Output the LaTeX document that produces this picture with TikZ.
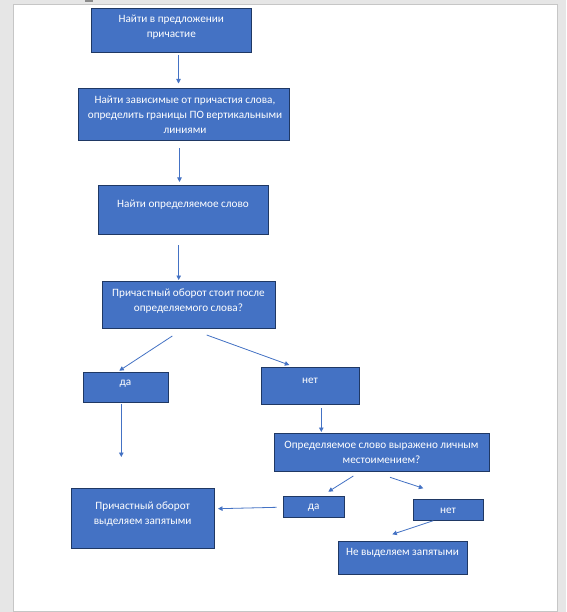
\documentclass[tikz,border=0pt]{standalone}
\usepackage{fontspec}
\setmainfont{Carlito}
\usetikzlibrary{arrows.meta,calc}
\definecolor{boxblue}{HTML}{4472C4}
\definecolor{boxedge}{HTML}{1F3864}
\definecolor{pagegray}{HTML}{E6E6E6}
\definecolor{pageedge}{HTML}{C6C6C6}
\definecolor{markgray}{HTML}{8A8A8A}
\begin{document}
\begin{tikzpicture}[x=1pt,y=-1pt,
  box/.style={draw=boxedge, fill=boxblue, line width=0.9pt, inner sep=0pt},
  txt/.style={text=white, font=\fontsize{11.2}{15.2}\selectfont, align=center, inner sep=0pt},
  conn/.style={draw=boxblue, line width=0.8pt, -{Triangle[length=4.5pt,width=4.5pt]}}]
\useasboundingbox (0,0) rectangle (566,612);
\fill[pagegray] (0,0) rectangle (566,612);
\filldraw[fill=white, draw=pageedge, line width=1pt] (13.5,5) rectangle (557,611);
\fill[markgray] (85,0) rectangle (93,2.5);

% boxes
\node[box, minimum width=160pt, minimum height=44pt] (b1) at (171.3,30.3) {};
\node[txt] (t1) at (171.3,27.5) {Найти в предложении\\причастие};
\node[box, minimum width=211pt, minimum height=51.7pt] (b2) at (183.8,114.2) {};
\node[txt] (t2) at (185,115) {Найти зависимые от причастия слова,\\определить границы ПО вертикальными\\линиями};
\node[box, minimum width=170.4pt, minimum height=49.3pt] (b3) at (183.5,209.7) {};
\node[txt] (t3) at (183,204.3) {Найти определяемое слово};
\node[box, minimum width=173.4pt, minimum height=47.3pt] (b4) at (189,304.7) {};
\node[txt] (t4) at (188.5,301) {Причастный оборот стоит после\\определяемого слова?};
\node[box, minimum width=85.4pt, minimum height=30pt] (da1) at (126,387.3) {};
\node[txt] (tda1) at (125.5,384) {да};
\node[box, minimum width=98pt, minimum height=37pt] (net1) at (310.3,385.8) {};
\node[txt] (tnet1) at (310,380.7) {нет};
\node[box, minimum width=215pt, minimum height=37.7pt] (opr) at (381.8,452.2) {};
\node[txt] (topr) at (381.5,452.2) {Определяемое слово выражено личным\\местоимением?};
\node[box, minimum width=61pt, minimum height=21.3pt] (da2) at (313.8,506.7) {};
\node[txt] (tda2) at (313.8,507.5) {да};
\node[box, minimum width=70pt, minimum height=20.7pt] (net2) at (448.3,509.7) {};
\node[txt] (tnet2) at (448,510.7) {нет};
\node[box, minimum width=143pt, minimum height=60pt] (pv) at (142.8,518.3) {};
\node[txt] (tpv) at (142.7,514.2) {Причастный оборот\\выделяем запятыми};
\node[box, minimum width=129pt, minimum height=33pt] (nv) at (402.8,557.8) {};
\node[txt] (tnv) at (402.5,552.7) {Не выделяем запятыми};

% connector ends
\coordinate (a1s) at (178.5,55);   \coordinate (a1e) at (178.5,83.5);
\coordinate (a2s) at (179.5,148.5); \coordinate (a2e) at (179.5,182);
\coordinate (a3s) at (178.7,245);  \coordinate (a3e) at (178.7,280);
\coordinate (a4s) at (172.3,336);  \coordinate (a4e) at (119.3,370.7);
\coordinate (a5s) at (206.7,335);  \coordinate (a5e) at (289.3,365);
\coordinate (a6s) at (121.3,404.3); \coordinate (a6e) at (121.3,457);
\coordinate (a7s) at (321.3,408.3); \coordinate (a7e) at (321.3,432);
\coordinate (a8s) at (353.3,476);  \coordinate (a8e) at (328.3,491.7);
\coordinate (a9s) at (390,477.3);  \coordinate (a9e) at (423.3,488.3);
\coordinate (a10s) at (276.7,507.3); \coordinate (a10e) at (218,508.7);
\coordinate (a11s) at (433.3,520.7); \coordinate (a11e) at (392.3,534.3);

\foreach \i in {1,...,11} {\draw[conn] (a\i s) -- (a\i e);}
\end{tikzpicture}
\end{document}
